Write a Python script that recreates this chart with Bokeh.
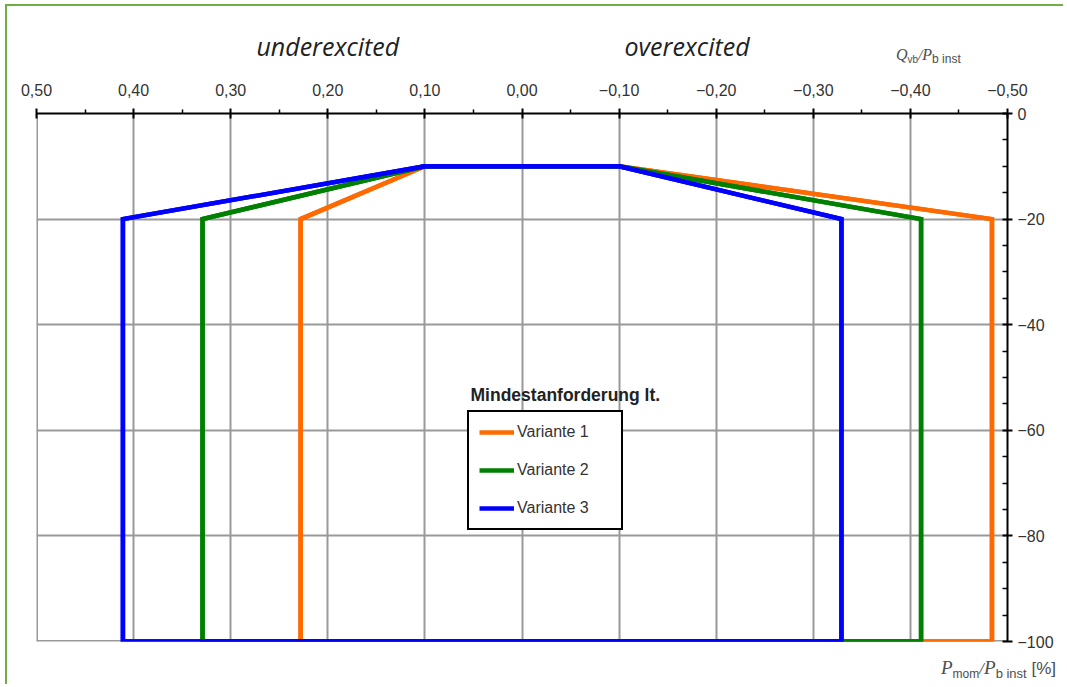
from bokeh.plotting import figure
from bokeh.models import (Range1d, LinearAxis, FixedTicker, Grid, Legend,
                          LegendItem, Label, Span, Div)
from bokeh.embed import file_html
from bokeh.resources import INLINE

# ---------------- data ----------------
variants = ["Variante 1", "Variante 2", "Variante 3"]
colors = ["#ff6a00", "#008000", "#0000ff"]
q_under = [0.228, 0.329, 0.411]      # Q/P (underexcited) for P between -20 and -100 %
q_over = [-0.484, -0.411, -0.329]    # Q/P (overexcited) for P between -20 and -100 %
q_knee = [0.10, -0.10]               # flat top segment
p_knee = -10
p_step = -20
p_min = -100

x_ticks = [0.5, 0.4, 0.3, 0.2, 0.1, 0.0, -0.1, -0.2, -0.3, -0.4, -0.5]
x_tick_labels = ["0,50", "0,40", "0,30", "0,20", "0,10", "0,00",
                 "\u22120,10", "\u22120,20", "\u22120,30", "\u22120,40", "\u22120,50"]
x_minor = [0.45, 0.35, 0.25, 0.15, 0.05, -0.05, -0.15, -0.25, -0.35, -0.45]
y_ticks = [0, -20, -40, -60, -80, -100]
y_tick_labels = ["0", "\u221220", "\u221240", "\u221260", "\u221280", "\u2212100"]
y_minor = [v for v in range(-95, 0, 5) if v % 20 != 0]

region_pos = [0.2, -0.17]
region_names = ["underexcited", "overexcited"]

# ---------------- figure ----------------
p = figure(width=1058, height=680, output_backend="svg", toolbar_location=None,
           x_range=Range1d(0.5, -0.5), y_range=Range1d(-100, 0),
           x_axis_type=None, y_axis_type=None,
           min_border_left=29, min_border_top=107, min_border_right=58,
           min_border_bottom=45)
p.outline_line_color = None
p.background_fill_color = "white"
p.border_fill_color = "white"
p.styles = {"position": "absolute", "left": "5px", "top": "4px",
            "border-left": "2px solid #70ad47", "border-top": "2px solid #70ad47"}

xticker = FixedTicker(ticks=x_ticks, minor_ticks=x_minor)
yticker = FixedTicker(ticks=y_ticks, minor_ticks=y_minor)

grid_color = "#999999"
p.add_layout(Grid(dimension=0, ticker=xticker, grid_line_color=grid_color,
                  grid_line_width=2))
p.add_layout(Grid(dimension=1, ticker=yticker, grid_line_color=grid_color,
                  grid_line_width=2))
# frame edges (grid excludes the range ends)
p.add_layout(Span(location=x_ticks[0], dimension="height", line_color=grid_color,
                  line_width=3, level="underlay"))
p.add_layout(Span(location=y_ticks[-1], dimension="width", line_color=grid_color,
                  line_width=3, level="underlay"))

top = LinearAxis(ticker=xticker,
                 major_label_overrides={t: l for t, l in zip(x_ticks, x_tick_labels)})
right = LinearAxis(ticker=yticker,
                   major_label_overrides={t: l for t, l in zip(y_ticks, y_tick_labels)})
for ax in (top, right):
    ax.axis_line_color = "black"
    ax.axis_line_width = 2
    ax.major_tick_line_color = "black"
    ax.major_tick_line_width = 2
    ax.minor_tick_line_color = "black"
    ax.minor_tick_line_width = 1.5
    ax.major_tick_in = 5
    ax.major_tick_out = 5
    ax.major_label_text_font = "Liberation Sans"
    ax.major_label_text_font_size = "16px"
    ax.major_label_text_color = "#333333"
top.minor_tick_in = 0
top.minor_tick_out = 4
top.major_label_standoff = 13
right.minor_tick_in = 5
right.minor_tick_out = 0
right.major_label_standoff = 5
p.add_layout(top, "above")
p.add_layout(right, "right")

# region captions as an extra (line-less) top axis
region_axis = LinearAxis(ticker=FixedTicker(ticks=region_pos),
                         major_label_overrides=dict(zip(region_pos, region_names)))
region_axis.axis_line_color = None
region_axis.major_tick_line_color = None
region_axis.minor_tick_line_color = None
region_axis.major_tick_in = 0
region_axis.major_tick_out = 0
region_axis.minor_tick_in = 0
region_axis.minor_tick_out = 0
region_axis.major_label_standoff = 18
region_axis.major_label_text_font = "Open Sans"
region_axis.major_label_text_font_style = "italic"
region_axis.major_label_text_font_size = "25px"
region_axis.major_label_text_color = "#222222"
p.add_layout(region_axis, "above")

# ---------------- curves ----------------
items = []
for name, col, qu, qo in zip(variants, colors, q_under, q_over):
    xs = [q_knee[0], qu, qu, qo, qo, q_knee[1], q_knee[0]]
    ys = [p_knee, p_step, p_min, p_min, p_step, p_knee, p_knee]
    p.patch(xs, ys, fill_color=None, line_color=col, line_width=4.5,
            line_join="miter")
    r = p.line(xs, ys, line_color=col, line_width=4.5, line_join="miter")
    items.append(LegendItem(label=name, renderers=[r]))

legend = Legend(items=items, location=(431, 111), margin=0, padding=10,
                spacing=18, glyph_width=35, glyph_height=20, label_height=20,
                label_width=94, label_standoff=3,
                label_text_font="Liberation Sans", label_text_font_size="16px",
                label_text_color="#333333",
                border_line_color="black", border_line_width=2,
                border_line_alpha=1.0,
                background_fill_color="white", background_fill_alpha=1.0)
p.add_layout(legend)

p.add_layout(Label(x=0.053, y=-53.4, text="Mindestanforderung lt.",
                   text_font="Liberation Sans", text_font_style="bold",
                   text_font_size="17.5px", text_color="#222222",
                   text_align="left", text_baseline="middle"))

# ---------------- axis quantity captions (with subscripts) ----------------
SERIF = "font-family:'Liberation Serif';font-style:italic;"
SANS = "font-family:'Liberation Sans';"


def span(txt, style, size, drop=0):
    extra = f"position:relative;top:{drop}px;" if drop else ""
    return f'<span style="{style}font-size:{size}px;{extra}">{txt}</span>'


q_caption = (span("Q", SERIF, 16) + span("vb", SANS, 10, 3) + span("/", SERIF, 15)
             + span("P", SERIF, 16) + span("b&nbsp;inst", SANS, 12, 3))
p_caption = (span("P", SERIF, 19) + span("mom", SANS, 12, 4) + span("/", SERIF, 17)
             + span("P", SERIF, 19) + span("b&nbsp;inst", SANS, 13, 4)
             + span("&nbsp;[%]", SANS, 17))

div_style = {"position": "absolute", "white-space": "nowrap", "color": "#4d4d4d",
             "line-height": "16px"}
q_div = Div(text=q_caption, width=90, height=22, margin=0,
            styles=dict(div_style, left="896px", top="47px"))
p_div = Div(text=p_caption, width=125, height=24, margin=0,
            styles=dict(div_style, left="941px", top="660px"))

open("out.html", "w").write(file_html([p, q_div, p_div], INLINE))
